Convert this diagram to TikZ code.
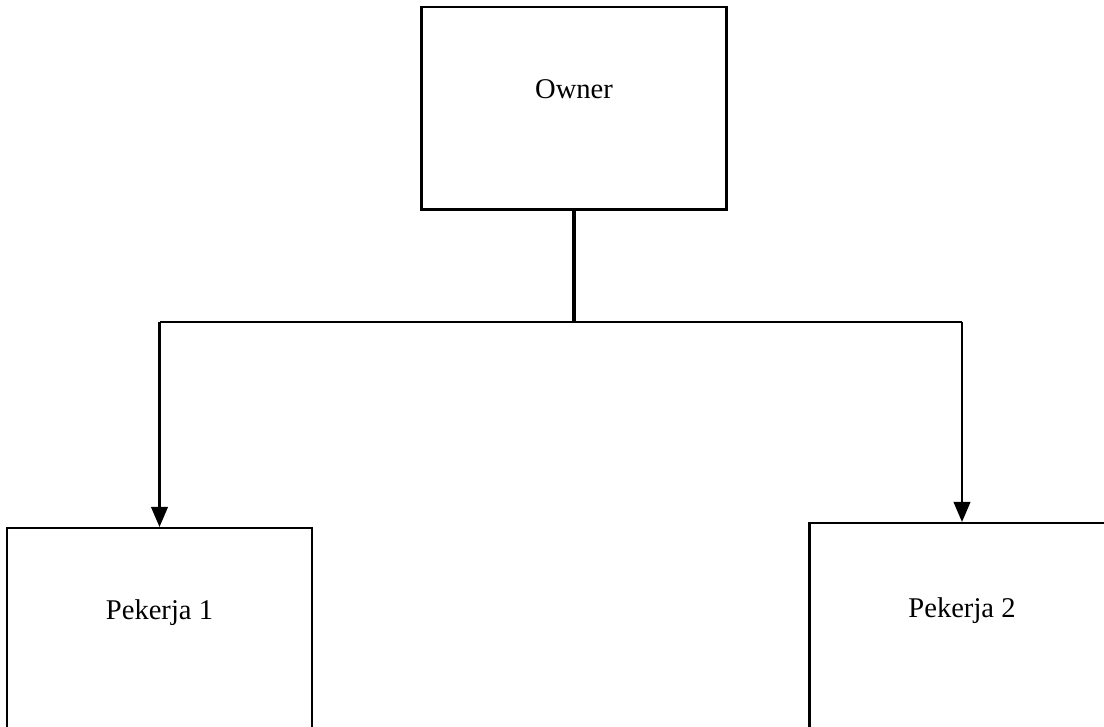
\documentclass[tikz,border=0pt]{standalone}
\usepackage{fontspec}
\setmainfont{Liberation Serif}
\usetikzlibrary{arrows.meta}

\tikzset{
    unit/.style={draw, line width=1pt, anchor=north, minimum width=128pt, minimum height=126pt, inner sep=0pt},
    link/.style={line width=1pt},
    tip/.style={line width=1pt, -{Triangle[width=7pt, length=8.5pt]}}
}

\begin{document}
\begin{tikzpicture}[x=0.42pt, y=-0.42pt, font=\fontsize{12}{14}\selectfont]
    \useasboundingbox (0,0) rectangle (1104,727);
    \clip (0,0) rectangle (1104,727);
    % boxes
    \node[unit, minimum height=85pt, label={[anchor=base, yshift=-39pt]north:Owner}] (owner) at (574,6) {};
    \node[unit, label={[anchor=base, yshift=-39pt]north:Pekerja 1}] (p1) at (159.5,527) {};
    \node[unit, label={[anchor=base, yshift=-40pt]north:Pekerja 2}] (p2) at (962,522) {};
    %
    \coordinate (split) at (574,322);
    \draw[line width=1.7pt] (owner.south) -- (owner.south |- split);
    \draw[link] (p1.north |- split) -- (p2.north |- split);
    \draw[tip] (p1.north |- split) -- (p1.north);
    \draw[tip] (p2.north |- split) -- (p2.north);
\end{tikzpicture}
\end{document}
